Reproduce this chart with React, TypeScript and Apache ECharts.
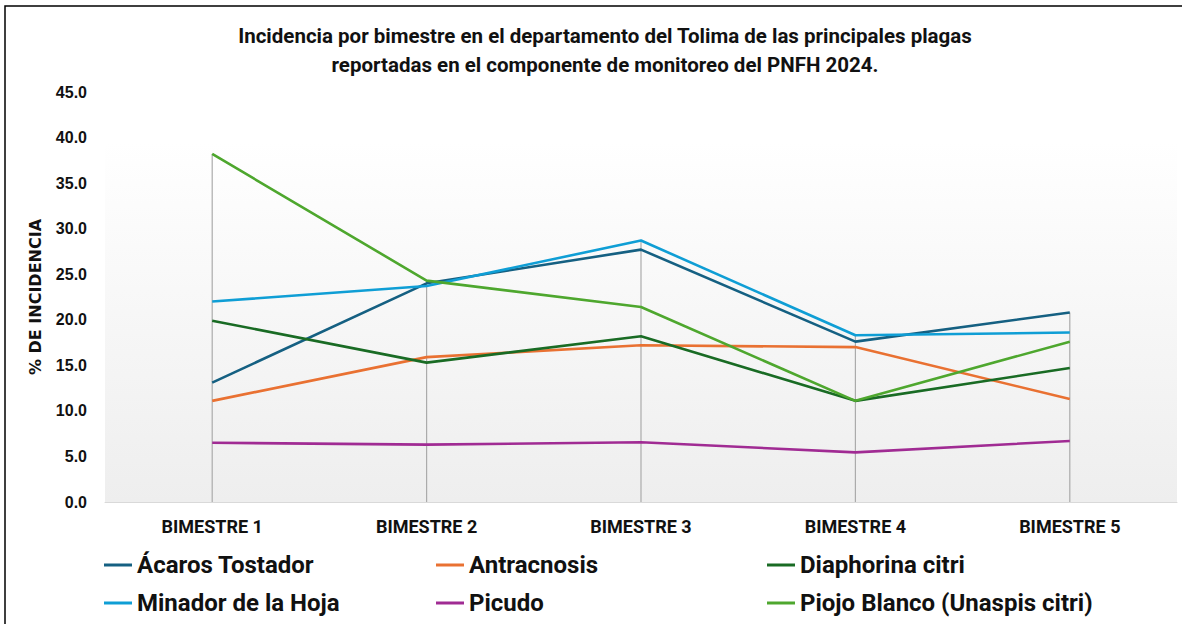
import React, { useEffect, useRef } from "react";
import * as echarts from "echarts";

const categories = ["BIMESTRE 1", "BIMESTRE 2", "BIMESTRE 3", "BIMESTRE 4", "BIMESTRE 5"];
const yTicks = [0, 5, 10, 15, 20, 25, 30, 35, 40, 45];

const acaros = [13.1, 24.0, 27.7, 17.6, 20.8];
const antracnosis = [11.1, 15.9, 17.2, 17.0, 11.3];
const diaphorina = [19.9, 15.3, 18.2, 11.1, 14.7];
const minador = [22.0, 23.7, 28.7, 18.3, 18.6];
const picudo = [6.5, 6.3, 6.55, 5.45, 6.7];
const piojo = [38.2, 24.3, 21.4, 11.1, 17.6];

const seriesDefs = [
  { name: "Ácaros Tostador", data: acaros, color: "#156082" },
  { name: "Antracnosis", data: antracnosis, color: "#E97132" },
  { name: "Diaphorina citri", data: diaphorina, color: "#196B24" },
  { name: "Minador de la Hoja", data: minador, color: "#0F9ED5" },
  { name: "Picudo", data: picudo, color: "#A02B93" },
  { name: "Piojo Blanco (Unaspis citri)", data: piojo, color: "#4EA72E" },
];

export default function App() {
  const ref = useRef<HTMLDivElement>(null);
  useEffect(() => {
    document.body.style.margin = "0";
    const chart = echarts.init(ref.current!, null, { renderer: "svg" });
    const maxes = categories.map((_, i) => [i, Math.max(...seriesDefs.map((s) => s.data[i]))]);
    const legendText = { fontFamily: "Roboto", fontSize: 24, fontWeight: "bold", color: "#111", lineHeight: 26 };
    const colLeft = [104, 436, 767];
    const rowTop = [552, 590];
    const legends = seriesDefs.map((s, i) => ({
      left: colLeft[i % 3],
      top: rowTop[Math.floor(i / 3)],
      padding: 0,
      itemWidth: 28,
      itemHeight: 3,
      icon: "rect",
      data: [s.name],
      textStyle: legendText,
    }));
    chart.setOption({
      animation: false,
      backgroundColor: "#fff",
      title: {
        text: "Incidencia por bimestre en el departamento del Tolima de las principales plagas\nreportadas en el componente de monitoreo del PNFH 2024.",
        left: 600,
        top: 16,
        textAlign: "center",
        textStyle: { fontFamily: "Roboto", fontSize: 20.5, fontWeight: "bold", color: "#111", lineHeight: 29 },
      },
      legend: legends,
      grid: {
        left: 105,
        right: 5,
        top: 92,
        bottom: 122,
        show: true,
        borderWidth: 0,
        backgroundColor: new echarts.graphic.LinearGradient(0, 0, 0, 1, [
          { offset: 0, color: "#ffffff" },
          { offset: 0.12, color: "#ffffff" },
          { offset: 1, color: "#eeeeee" },
        ]),
      },
      xAxis: {
        type: "category",
        data: categories,
        boundaryGap: true,
        axisLine: { lineStyle: { color: "#d9d9d9", width: 1 } },
        axisTick: { show: false },
        axisLabel: { fontFamily: "Roboto", fontSize: 18, fontWeight: "bold", color: "#111", margin: 15 },
      },
      yAxis: {
        type: "value",
        min: yTicks[0],
        max: yTicks[yTicks.length - 1],
        interval: 5,
        name: "% DE INCIDENCIA",
        nameLocation: "middle",
        nameGap: 62,
        nameTextStyle: { fontFamily: "DejaVu Sans", fontSize: 16, fontWeight: "bold", color: "#111" },
        splitLine: { show: false },
        axisLine: { show: false },
        axisTick: { show: false },
        axisLabel: {
          formatter: (v: number) => v.toFixed(1),
          fontFamily: "Liberation Sans",
          fontSize: 16,
          fontWeight: "bold",
          color: "#111",
          margin: 18,
        },
      },
      series: [
        {
          type: "custom",
          name: "drop",
          data: maxes,
          encode: { x: 0, y: 1 },
          z: 1,
          silent: true,
          renderItem: (params: any, api: any) => {
            const top = api.coord([api.value(0), api.value(1)]);
            const bottom = api.coord([api.value(0), 0]);
            return {
              type: "line",
              shape: { x1: top[0], y1: top[1], x2: bottom[0], y2: bottom[1] },
              style: { stroke: "#ababab", lineWidth: 1.2 },
            };
          },
        },
        ...seriesDefs.map((s, i) => ({
          type: "line",
          name: s.name,
          data: s.data,
          color: s.color,
          showSymbol: false,
          symbol: "none",
          z: 2 + i,
          lineStyle: { width: 2.6, color: s.color },
        })),
      ],
      graphic: [
        {
          type: "rect",
          shape: { x: 5, y: 6, width: 1200, height: 700 },
          style: { fill: "none", stroke: "#000", lineWidth: 1.5 },
          z: 100,
          silent: true,
        },
      ],
    });
    return () => chart.dispose();
  }, []);
  return <div ref={ref} style={{ width: 1182, height: 624 }} />;
}
